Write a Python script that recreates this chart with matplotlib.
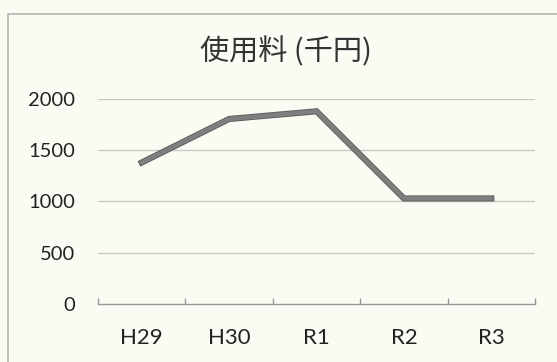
import matplotlib
matplotlib.use("Agg")
import matplotlib.pyplot as plt
import matplotlib.patheffects as pe
from matplotlib.patches import Rectangle

categories = ["H29", "H30", "R1", "R2", "R3"]
values = [1380, 1805, 1880, 1030, 1030]
yticks = [0, 500, 1000, 1500, 2000]
title = "使用料 (千円)"

bg = "#fbfbf4"
W, H = 557, 362
fig = plt.figure(figsize=(W / 100, H / 100), dpi=100, facecolor=bg)

# chart frame
fig.patches.append(Rectangle((8 / W, -0.1), 1.2, (H - 14) / H + 0.1, transform=fig.transFigure,
                             fill=False, edgecolor="#b5b5b0", linewidth=1.2))

ax = fig.add_axes([98 / W, 1 - 304 / H, (535 - 98) / W, (304 - 99) / H])
ax.set_facecolor(bg)
x = list(range(len(categories)))
ax.plot(x, values, color="#7e7e7e", linewidth=3.2, solid_joinstyle="miter",
        path_effects=[pe.Stroke(linewidth=4.4, foreground="#5a5a5a"), pe.Normal()])

ax.set_xlim(-0.5, len(categories) - 0.5)
ax.set_ylim(0, 2000)
ax.set_yticks(yticks)
ax.set_yticklabels([str(v) for v in yticks])
ax.set_xticks(x)
ax.set_xticklabels(categories)
ax.set_xticks([i - 0.5 for i in range(len(categories) + 1)], minor=True)

for v in yticks[1:]:
    ax.axhline(v, color="#c8c8c4", linewidth=1.0, zorder=0)

for s in ["top", "right", "left"]:
    ax.spines[s].set_visible(False)
ax.spines["bottom"].set_color("#9a9a96")
ax.spines["bottom"].set_linewidth(1.0)

ax.tick_params(axis="y", length=0, pad=16.5, labelsize=14.5, labelcolor="#222222")
ax.tick_params(axis="x", which="major", length=0, pad=17.5, labelsize=16, labelcolor="#222222")
ax.tick_params(axis="x", which="minor", length=4, direction="in", color="#9a9a96", width=1.0)
for lab in ax.get_xticklabels() + ax.get_yticklabels():
    lab.set_family(["Lato", "DejaVu Sans"])

fig.text(286 / W, 1 - 52 / H, title, ha="center", va="center", fontsize=21,
         color="#333333", family=["Noto Sans CJK JP", "DejaVu Sans"])

fig.savefig("out.png", dpi=100, facecolor=bg)
